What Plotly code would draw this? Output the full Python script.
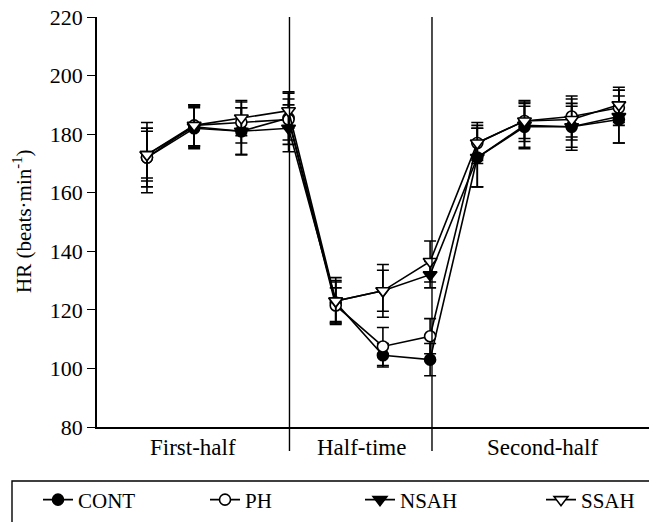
import plotly.graph_objects as go

# ---- data ----
x_idx = [0, 1, 2, 3, 4, 5, 6, 7, 8, 9, 10]
phase_labels = ["First-half", "Half-time", "Second-half"]
phase_label_pos = [0.98, 4.55, 8.38]
dividers = [3.02, 6.04]

cont = [172, 182, 181, 185.5, 122.5, 104.5, 103, 172, 182.5, 182.5, 185]
cont_err = [12, 7, 8, 9, 7, 4, 5.5, 10, 7, 7, 8]
ph = [172, 183, 184, 185, 121.5, 107.5, 111, 177, 184.5, 186, 189]
ph_err = [10, 7, 7, 7, 6, 6.5, 6, 7, 6, 7, 6]
nsah = [173, 182.5, 181, 182, 123, 126.5, 132, 172, 183, 182.5, 186]
nsah_err = [9, 7, 8, 8, 7, 9, 4.5, 10, 8, 8, 9]
ssah = [173, 183, 185.5, 188, 123, 126.5, 136.5, 177, 184.5, 185, 190]
ssah_err = [8, 7, 6, 6, 8, 7, 7, 6, 7, 7, 6]

y_ticks = [80, 100, 120, 140, 160, 180, 200, 220]

FONT = "Liberation Serif, Times New Roman, serif"

series = [
    ("CONT", cont, cont_err, "circle", "black", 11, "legend"),
    ("PH", ph, ph_err, "circle", "white", 11, "legend2"),
    ("NSAH", nsah, nsah_err, "triangle-down", "black", 12, "legend3"),
    ("SSAH", ssah, ssah_err, "triangle-down", "white", 12, "legend4"),
]

fig = go.Figure()
for name, vals, errs, sym, fill, size, lg in series:
    fig.add_trace(go.Scatter(
        x=x_idx, y=vals, name=name, mode="lines+markers",
        line=dict(color="black", width=1.6),
        marker=dict(symbol=sym, size=size, color=fill,
                    line=dict(color="black", width=1.6)),
        error_y=dict(type="data", array=errs, visible=True,
                     color="black", thickness=1.6, width=6),
        legend=lg,
    ))

W, H = 657, 522
OFF = 8  # page body margin offset
# target plot area in screenshot pixels: x 97..650, y 17..427
ml = 97 - OFF
mt = 17 - OFF
pw = 650 - 97
ph_ = 427 - 17
mr = W - ml - pw
mb = H - mt - ph_

def px_to_paper_x(px):
    return (px - OFF - ml) / pw

def px_to_paper_y(py):
    return (H - mb - (py - OFF)) / ph_

shapes = []
for d in dividers:
    shapes.append(dict(type="line", xref="x", yref="paper", x0=d, x1=d,
                       y0=1, y1=px_to_paper_y(451),
                       line=dict(color="black", width=1.4)))
# legend frame
shapes.append(dict(type="rect", xref="paper", yref="paper",
                   x0=px_to_paper_x(12), x1=px_to_paper_x(700),
                   y0=px_to_paper_y(481), y1=px_to_paper_y(560),
                   line=dict(color="black", width=1.4), fillcolor="rgba(0,0,0,0)"))

annotations = []
for lab, pos in zip(phase_labels, phase_label_pos):
    annotations.append(dict(x=pos, y=px_to_paper_y(447), xref="x", yref="paper",
                            text=lab, showarrow=False,
                            font=dict(family=FONT, size=23, color="black"),
                            xanchor="center", yanchor="middle"))
annotations.append(dict(x=px_to_paper_x(22), y=px_to_paper_y(222),
                        xref="paper", yref="paper",
                        text="HR (beats·min<sup>-1</sup>)", textangle=-90,
                        showarrow=False,
                        font=dict(family=FONT, size=21, color="black"),
                        xanchor="center", yanchor="middle"))

legend_x_px = [30, 197, 352, 533]
leg_common = dict(orientation="h", yanchor="middle", xanchor="left",
                  xref="container", yref="container",
                  y=1 - 492 / H, bgcolor="rgba(0,0,0,0)",
                  font=dict(family=FONT, size=21, color="black"),
                  borderwidth=0)

layout_legends = {}
for i, key in enumerate(["legend", "legend2", "legend3", "legend4"]):
    layout_legends[key] = dict(leg_common, x=legend_x_px[i] / W)

fig.update_layout(
    width=W, height=H,
    margin=dict(l=ml, r=mr, t=mt, b=mb, autoexpand=False),
    paper_bgcolor="white", plot_bgcolor="white",
    showlegend=True,
    shapes=shapes,
    annotations=annotations,
    font=dict(family=FONT, color="black"),
    xaxis=dict(range=[-1.059, 10.66], showgrid=False, zeroline=False,
               showline=True, linecolor="black", linewidth=1.6,
               showticklabels=False, ticks="", automargin=False),
    yaxis=dict(range=[80, 220], tickvals=y_ticks, showgrid=False,
               zeroline=False, showline=True, linecolor="black", linewidth=1.6,
               ticks="outside", ticklen=8, tickwidth=1.4, tickcolor="black",
               tickfont=dict(family=FONT, size=22, color="black"),
               ticklabeloverflow="allow",
               automargin=False),
    **layout_legends,
)

fig.write_html("out.html")
